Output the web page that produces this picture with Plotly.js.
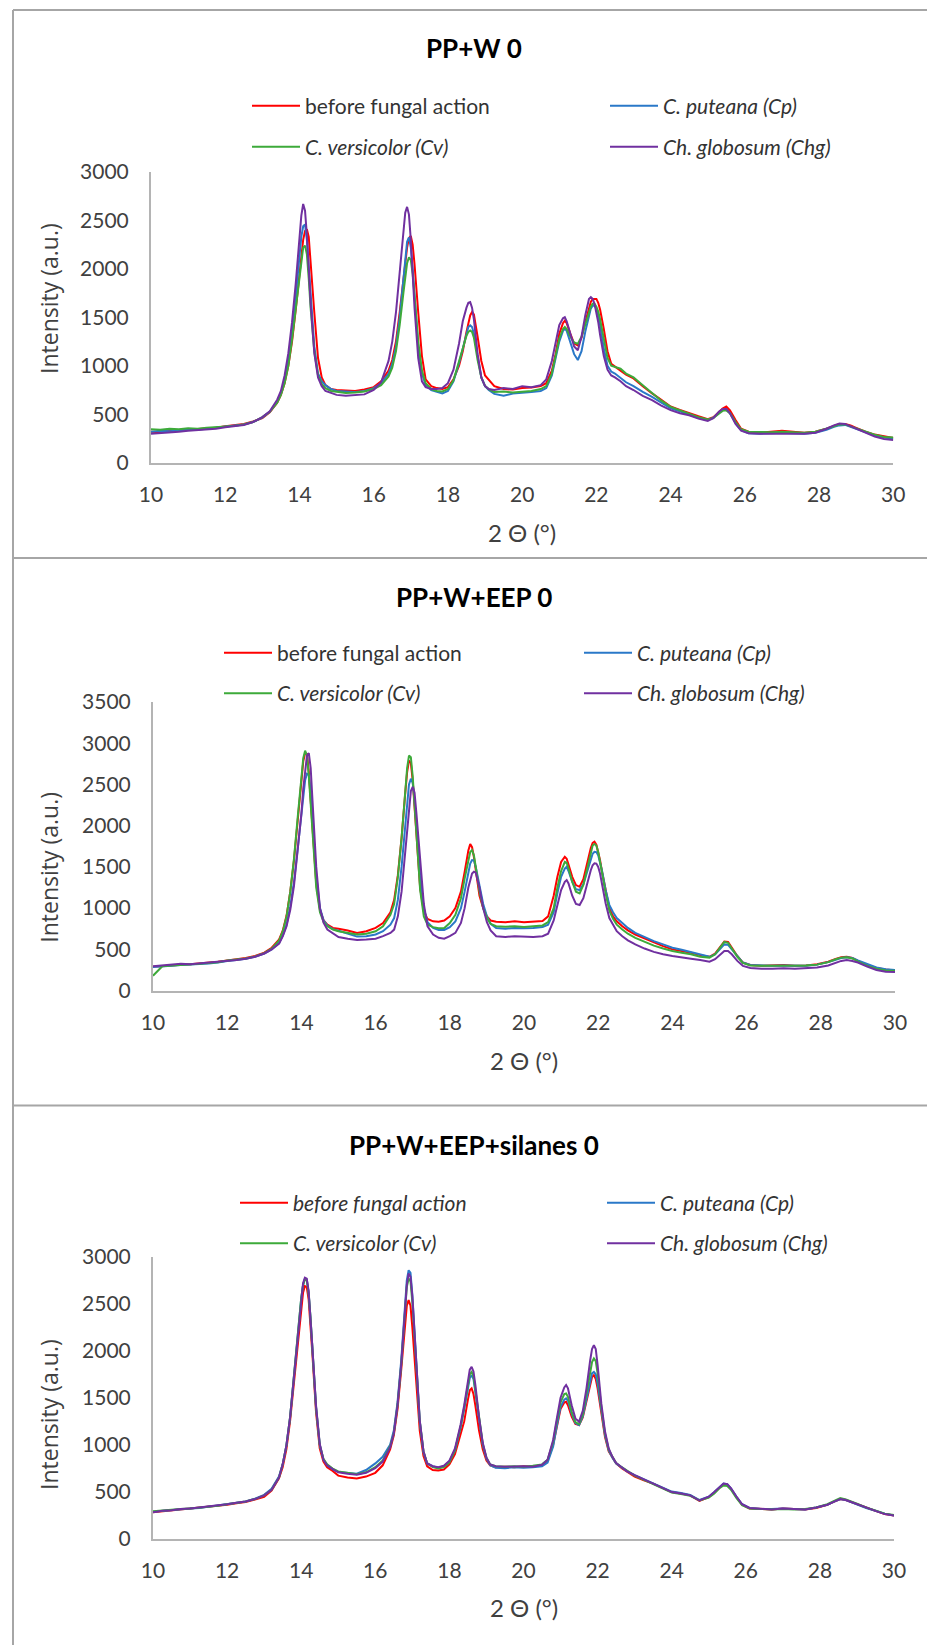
<!DOCTYPE html>
<html>
<head>
<meta charset="utf-8">
<script src="https://cdn.plot.ly/plotly-3.0.1.min.js"></script>
<style>html,body{margin:0;padding:0;background:#fff;}#chart{width:927px;height:1645px;}</style>
</head>
<body>
<div id="chart"></div>
<script>
// 2θ grid (degrees) shared by all panels
const twoTheta = [10.0,10.25,10.5,10.75,11.0,11.25,11.5,11.75,12.0,12.25,12.5,12.75,
13.0,13.2,13.4,13.5,13.6,13.7,13.8,13.9,14.0,14.05,14.1,14.15,14.2,14.25,14.3,14.4,14.5,14.6,14.7,14.85,
15.0,15.25,15.5,15.75,16.0,16.2,16.4,16.5,16.6,16.7,16.8,16.85,16.9,16.95,17.0,17.05,17.1,17.2,17.3,17.4,
17.55,17.7,17.85,18.0,18.15,18.3,18.4,18.5,18.55,18.6,18.65,18.7,18.8,18.9,19.0,19.1,19.25,
19.5,19.75,20.0,20.25,20.5,20.65,20.8,20.9,21.0,21.1,21.15,21.2,21.3,21.4,21.5,21.6,21.7,21.8,21.85,21.9,21.95,22.0,22.05,22.1,22.2,22.3,22.4,22.5,22.65,22.8,
23.0,23.25,23.5,23.75,24.0,24.25,24.5,24.75,25.0,25.15,25.3,25.4,25.5,25.6,25.75,25.9,
26.1,26.4,26.7,27.0,27.3,27.6,27.9,28.2,28.4,28.55,28.7,28.85,29.0,29.25,29.5,29.75,30.0];

// ---- Panel 1: PP+W 0 ----
const p1Before = [320,315,335,330,340,345,355,360,375,385,400,425,
460,520,620,700,820,1000,1250,1580,1950,2150,2300,2390,2410,2330,2100,1550,1080,880,800,760,
750,745,740,755,780,840,950,1060,1250,1550,1900,2080,2220,2320,2340,2250,2050,1550,1100,860,
790,770,760,780,860,1000,1150,1350,1450,1520,1554,1530,1300,1050,900,860,790,
760,755,770,775,790,820,950,1120,1330,1440,1465,1440,1330,1230,1210,1290,1450,1600,1660,1690,1690,1690,1650,1580,1380,1150,1020,990,950,910,
870,790,715,650,580,545,510,480,450,470,520,560,580,540,440,350,
320,310,320,330,320,310,320,350,380,400,400,385,360,320,290,270,255];
const p1Cp = [320,330,325,335,340,340,350,365,370,385,395,420,
465,525,630,715,850,1060,1350,1720,2120,2330,2440,2460,2300,2000,1700,1200,920,840,800,760,
740,735,730,740,770,820,920,1020,1200,1500,1900,2120,2280,2325,2220,2000,1700,1200,920,800,
750,730,715,740,840,1030,1190,1340,1400,1417,1400,1330,1080,880,790,750,710,
690,715,720,730,740,770,900,1070,1250,1360,1383,1360,1240,1120,1060,1150,1350,1530,1590,1620,1623,1590,1520,1420,1180,1000,940,920,870,830,
790,730,680,620,560,530,495,460,440,465,515,545,550,510,410,335,
305,300,305,310,305,300,310,340,370,385,390,370,350,310,280,260,250];
const p1Cv = [345,340,350,345,355,350,360,365,375,380,395,420,
470,525,620,700,820,1000,1270,1600,1950,2120,2220,2240,2150,1900,1600,1150,900,810,770,740,
730,720,725,735,760,800,890,980,1150,1420,1750,1930,2060,2120,2090,1950,1700,1250,950,820,
760,740,735,760,850,1050,1190,1310,1350,1365,1350,1290,1060,880,790,760,730,
735,725,735,740,760,790,920,1100,1280,1380,1400,1380,1300,1240,1228,1300,1430,1560,1610,1640,1640,1610,1560,1480,1270,1080,1000,990,970,920,
880,800,715,640,576,540,505,470,445,460,505,535,540,510,420,345,
320,315,315,320,315,310,320,350,375,395,395,375,355,320,290,265,260];
const p1Chg = [300,305,310,320,330,335,340,350,365,375,390,420,
470,530,650,740,900,1130,1450,1850,2300,2550,2670,2600,2350,2000,1650,1130,880,790,740,720,
700,690,695,705,750,830,1050,1250,1550,1950,2400,2580,2640,2560,2300,1950,1600,1080,840,780,
760,760,770,820,960,1230,1460,1600,1650,1657,1600,1480,1120,880,790,760,750,
770,760,790,780,800,860,1050,1250,1420,1490,1502,1460,1320,1200,1160,1300,1520,1690,1708,1690,1640,1560,1450,1320,1100,960,900,880,840,790,
750,690,645,590,542,510,490,455,430,460,525,555,555,510,400,330,
305,300,300,305,300,300,310,350,385,405,400,375,350,305,270,245,235];

// ---- Panel 2: PP+W+EEP 0 ----
const p2Before = [290,300,310,315,320,330,335,350,365,380,395,420,
460,520,620,730,910,1200,1580,2060,2550,2780,2880,2870,2650,2300,1950,1300,980,850,800,760,
750,730,700,720,760,820,950,1100,1400,1850,2400,2650,2790,2760,2550,2200,1850,1250,960,870,
840,835,850,900,1000,1200,1440,1700,1777,1740,1620,1450,1150,1000,900,850,835,
830,840,830,835,845,900,1150,1380,1560,1623,1600,1530,1380,1280,1259,1350,1550,1730,1790,1805,1770,1690,1580,1450,1200,1000,900,840,780,730,
680,630,580,540,500,480,460,430,410,450,540,595,590,520,420,340,
310,300,305,310,300,305,320,350,385,405,410,395,360,310,275,255,245];
const p2Cp = [285,290,300,310,315,320,330,340,360,370,385,410,
450,500,580,670,800,1020,1320,1720,2150,2380,2550,2630,2620,2400,2050,1400,1000,850,790,745,
725,690,655,660,680,720,800,880,1100,1500,2050,2300,2500,2570,2520,2300,2000,1400,1000,830,
760,735,735,770,840,1000,1200,1450,1540,1583,1580,1500,1250,1050,900,810,760,
750,760,755,760,770,800,950,1180,1380,1480,1502,1450,1320,1230,1219,1290,1440,1600,1660,1684,1680,1640,1560,1460,1220,1040,950,880,820,760,
700,650,600,560,520,495,465,440,410,440,510,560,555,500,410,340,
310,305,300,305,305,300,315,345,375,395,405,395,365,320,280,260,250];
const p2Cv = [180,295,305,310,320,325,335,345,365,375,390,415,
455,510,610,720,900,1200,1600,2100,2600,2820,2910,2850,2600,2250,1900,1250,950,830,780,740,
720,700,680,690,720,780,920,1050,1380,1850,2450,2700,2850,2830,2600,2250,1850,1220,900,800,
770,755,760,820,920,1120,1360,1600,1680,1704,1640,1500,1200,1000,880,810,780,
775,780,770,780,790,830,1000,1250,1450,1562,1550,1480,1320,1200,1179,1280,1480,1690,1760,1777,1760,1680,1570,1440,1180,970,870,800,740,690,
640,590,545,510,480,460,440,410,400,440,530,590,580,510,410,335,
305,300,300,305,300,305,315,345,380,400,405,390,355,300,265,245,240];
const p2Chg = [295,305,315,325,320,330,335,345,360,370,385,410,
450,500,570,660,780,980,1270,1680,2150,2450,2700,2850,2880,2700,2300,1500,1000,820,740,690,
650,630,615,620,630,660,700,740,900,1200,1700,2000,2250,2420,2470,2400,2150,1550,1050,780,
680,640,630,660,700,820,1000,1250,1350,1420,1441,1430,1250,1000,830,730,660,
650,660,655,650,660,690,850,1050,1220,1320,1341,1300,1150,1050,1038,1120,1300,1460,1520,1543,1540,1500,1420,1300,1060,880,790,720,660,610,
560,510,470,440,420,400,385,370,350,380,440,480,480,440,360,300,
275,265,265,270,265,270,280,305,335,360,370,360,340,290,250,230,225];

// ---- Panel 3: PP+W+EEP+silanes 0 ----
const p3Before = [280,290,300,310,315,325,335,345,360,375,390,415,
445,510,640,760,950,1250,1650,2100,2480,2620,2690,2680,2550,2300,1980,1350,960,820,760,720,
670,650,640,660,700,780,950,1100,1380,1800,2300,2480,2540,2480,2250,1950,1650,1150,880,770,
730,725,735,790,900,1100,1250,1480,1580,1600,1540,1420,1150,950,830,780,760,
765,760,770,765,780,830,1000,1200,1380,1450,1457,1420,1300,1220,1209,1290,1470,1650,1720,1741,1700,1600,1460,1320,1080,930,860,800,750,710,
660,620,585,540,495,480,460,400,440,490,550,580,575,530,440,360,
320,315,310,320,315,310,325,360,395,420,410,390,365,330,295,260,245];
const p3Cp = [285,295,305,310,320,325,340,350,370,380,395,425,
465,530,660,790,990,1290,1700,2170,2560,2700,2770,2760,2620,2360,2030,1400,1000,840,780,740,
710,700,690,730,800,870,1000,1150,1450,1900,2500,2750,2859,2830,2600,2250,1850,1250,920,800,
770,755,770,820,940,1180,1380,1620,1710,1741,1700,1560,1250,1000,850,780,755,
750,760,755,760,770,810,980,1200,1400,1480,1493,1470,1330,1230,1209,1300,1490,1680,1760,1776,1750,1650,1500,1350,1100,940,860,800,755,715,
675,630,585,545,500,485,465,410,445,495,555,585,580,535,445,365,
325,315,315,320,315,310,330,360,395,420,410,385,365,325,295,265,245];
const p3Cv = [290,300,310,315,320,330,335,350,365,380,395,420,
460,520,650,790,990,1290,1700,2170,2560,2700,2760,2750,2620,2360,2030,1400,1000,850,790,745,
715,700,685,705,760,830,980,1120,1420,1850,2450,2680,2771,2740,2520,2200,1820,1250,930,800,
760,745,760,810,940,1190,1400,1650,1750,1776,1730,1590,1270,1010,860,790,770,
765,770,765,775,790,840,1030,1250,1450,1540,1546,1510,1350,1240,1220,1320,1530,1780,1880,1919,1890,1760,1580,1400,1120,950,870,805,760,720,
670,625,580,540,490,475,455,405,435,480,540,565,560,520,430,355,
320,315,310,315,310,315,330,365,400,430,415,395,370,330,300,265,250];
const p3Chg = [280,295,300,315,320,330,340,350,365,380,395,420,
460,520,650,790,990,1290,1700,2180,2580,2720,2780,2770,2640,2380,2050,1420,1010,840,780,740,
705,690,680,700,750,820,970,1120,1420,1860,2450,2700,2824,2790,2580,2250,1850,1260,930,800,
770,760,775,830,960,1210,1420,1700,1800,1830,1780,1640,1290,1020,860,790,770,
765,770,770,765,785,840,1050,1280,1500,1610,1635,1600,1420,1280,1245,1360,1600,1900,2020,2061,2020,1850,1640,1440,1140,960,870,805,760,715,
675,630,585,545,495,480,460,405,445,495,555,585,580,535,445,365,
325,315,310,320,315,310,330,360,395,420,410,390,365,330,295,260,245];

const seriesNames = ['before fungal action','C. puteana (Cp)','C. versicolor (Cv)','Ch. globosum (Chg)'];
const panelTitles = ['PP+W 0','PP+W+EEP 0','PP+W+EEP+silanes 0'];
const xTitle = '2 Θ (°)';
const yTitle = 'Intensity (a.u.)';
const xTickVals = [10,12,14,16,18,20,22,24,26,28,30];
const yMax = [3000, 3500, 3000];

const colors = ['#FF0000','#2A78C8','#3DAA3A','#7030A0'];
const panels = [[p1Before,p1Cp,p1Cv,p1Chg],[p2Before,p2Cp,p2Cv,p2Chg],[p3Before,p3Cp,p3Cv,p3Chg]];

const W = 927, H = 1645;
const fx = px => px / W;
const fy = py => 1 - py / H;

// geometry (pixels)
const geom = [
  {x0:151, x1:893.3, yb:462.7, yt:172, title:48, leg:[106,147], legTx:[305,663], ytc:299, xt:532, xtc:522},
  {x0:153, x1:895,   yb:990.6, yt:702, title:597, leg:[653,693.5], legTx:[277,637], ytc:867.7, xt:1060, xtc:524},
  {x0:153, x1:894,   yb:1538.5, yt:1257, title:1145, leg:[1203,1243.5], legTx:[293,660], ytc:1415, xt:1607.5, xtc:524}
];
const LEG_ITEM_W = 48;

const LATO = 'Lato, "Liberation Sans", sans-serif';
const traces = [];
const layout = {
  width: W, height: H, margin: {l:0, r:0, t:0, b:0},
  paper_bgcolor: '#ffffff', plot_bgcolor: '#ffffff',
  showlegend: true, annotations: [], shapes: []
};

panels.forEach((data, p) => {
  const g = geom[p];
  const xa = p === 0 ? 'x' : 'x' + (p + 1);
  const ya = p === 0 ? 'y' : 'y' + (p + 1);
  data.forEach((ys, s) => {
    const k = p * 4 + s;
    const legId = k === 0 ? 'legend' : 'legend' + (k + 1);
    let nm = seriesNames[s];
    if (s > 0 || p === 2) nm = '<i>' + nm + '</i>';
    traces.push({
      x: twoTheta, y: ys, type: 'scatter', mode: 'lines',
      name: nm, xaxis: xa, yaxis: ya, legend: legId,
      line: {color: colors[s], width: 2}, hoverinfo: 'skip'
    });
    layout[legId] = {
      orientation: 'v', x: fx(g.legTx[s % 2] - (LEG_ITEM_W + 10)), xanchor: 'left',
      y: fy(g.leg[s < 2 ? 0 : 1]), yanchor: 'middle', itemwidth: LEG_ITEM_W,
      bgcolor: 'rgba(0,0,0,0)', borderwidth: 0,
      font: {family: LATO, size: 21, color: '#333333'}, itemclick: false, itemdoubleclick: false
    };
  });
  const xKey = p === 0 ? 'xaxis' : 'xaxis' + (p + 1);
  const yKey = p === 0 ? 'yaxis' : 'yaxis' + (p + 1);
  layout[xKey] = {
    domain: [fx(g.x0), fx(g.x1)], anchor: ya, range: [10, 30],
    tickmode: 'array', tickvals: xTickVals, showgrid: false, zeroline: false,
    showline: true, linecolor: '#b4b4b4', linewidth: 2, ticks: '',
    ticklabelstandoff: 12,
    tickfont: {family: LATO, size: 21, color: '#404040'}, fixedrange: true
  };
  layout[yKey] = {
    domain: [fy(g.yb), fy(g.yt)], anchor: xa, range: [0, yMax[p]], dtick: 500, tick0: 0,
    showgrid: false, zeroline: false, showline: true, linecolor: '#b4b4b4', linewidth: 2,
    ticks: '', ticklabelstandoff: 16,
    tickfont: {family: LATO, size: 21, color: '#404040'}, fixedrange: true
  };
  layout.annotations.push({
    text: '<b>' + panelTitles[p] + '</b>', xref: 'paper', yref: 'paper',
    x: fx(474), y: fy(g.title), xanchor: 'center', yanchor: 'middle', showarrow: false,
    font: {family: LATO, size: 26, color: '#000000'}
  });
  layout.annotations.push({
    text: yTitle, xref: 'paper', yref: 'paper', textangle: -90,
    x: fx(49), y: fy(g.ytc), xanchor: 'center', yanchor: 'middle', showarrow: false,
    font: {family: '"Open Sans", sans-serif', size: 23, color: '#404040'}
  });
  layout.annotations.push({
    text: xTitle, xref: 'paper', yref: 'paper',
    x: fx(g.xtc), y: fy(g.xt), xanchor: 'center', yanchor: 'middle', showarrow: false,
    font: {family: LATO, size: 24, color: '#404040'}
  });
});

// panel frames
const frameColor = '#a6a6a6';
layout.shapes.push({type:'line', xref:'paper', yref:'paper', x0:fx(13), x1:fx(13), y0:fy(10), y1:fy(1660), line:{color:frameColor, width:2}});
[10, 558, 1105.5].forEach(py => {
  layout.shapes.push({type:'line', xref:'paper', yref:'paper', x0:fx(13), x1:fx(940), y0:fy(py), y1:fy(py), line:{color:frameColor, width:2}});
});

Plotly.newPlot('chart', traces, layout, {staticPlot: true, displayModeBar: false});
</script>
</body>
</html>
